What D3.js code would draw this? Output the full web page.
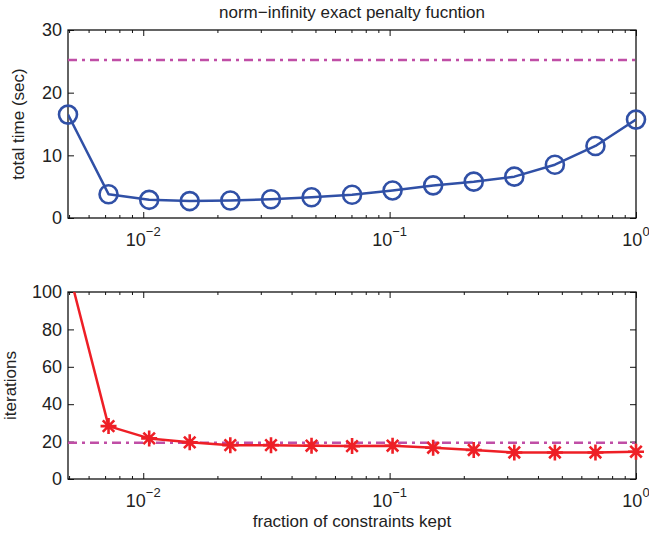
<!DOCTYPE html>
<html>
<head>
<meta charset="utf-8">
<script src="https://cdn.jsdelivr.net/npm/d3@7"></script>
<style>
  body { margin: 0; background: #fff; }
  text { font-family: "Liberation Sans", Arial, sans-serif; fill: #222; }
</style>
</head>
<body>
<svg id="chart" width="649" height="535"></svg>
<script>
// data
var fraction = [0.00495, 0.00723, 0.01057, 0.01544, 0.02256, 0.0330, 0.0482, 0.0704,
                0.1028, 0.1502, 0.2195, 0.3207, 0.4686, 0.6846, 1.0];
var timeSec = [16.5, 3.8, 2.9, 2.7, 2.8, 3.0, 3.3, 3.7, 4.4, 5.2, 5.8, 6.6, 8.5, 11.5, 15.7];
var iterations = [113, 28.3, 21.7, 19.6, 18.1, 18.1, 17.8, 17.6, 17.8, 16.7, 15.5, 14.2, 14.2, 14.2, 14.6];
var timeRef = 25.2;
var iterRef = 19.4;
var xMajor = [0.01, 0.1, 1];
var xExp = ["\u22122", "\u22121", "0"];
var yTicksTime = [0, 10, 20, 30];
var yTicksIter = [0, 20, 40, 60, 80, 100];

var svg = d3.select("#chart"),
    left = 68, right = 636,
    width = right - left;

var blue = "#3050a6", red = "#ee1f26", pink = "#c04ea6";

var x = d3.scaleLog()
    .domain([0.00495, 1])
    .range([0, width]);

// minor ticks 2..9 of each decade inside the domain
var xMinor = [];
[0.001, 0.01, 0.1].forEach(function(p) {
  for (var k = 2; k <= 9; k++) {
    var v = k * p;
    if (v >= x.domain()[0] && v < 1) xMinor.push(v);
  }
});

function panel(top, height, ymax, yTicks, values, ref, color, marker, ylabel, ylabelX, id) {
  var g = svg.append("g").attr("transform", "translate(" + left + "," + top + ")");
  var y = d3.scaleLinear().domain([0, ymax]).range([height, 0]);

  g.append("clipPath").attr("id", id)
    .append("rect").attr("width", width).attr("height", height);

  // axes with inward ticks on all four sides
  var noLab = function() { return ""; };
  g.append("g").attr("class", "axis").attr("transform", "translate(0," + height + ")")
      .call(d3.axisBottom(x).tickValues(xMajor).tickSize(-6).tickFormat(noLab));
  g.append("g").attr("class", "axis").attr("transform", "translate(0," + height + ")")
      .call(d3.axisBottom(x).tickValues(xMinor).tickSize(-3).tickFormat(noLab));
  g.append("g").attr("class", "axis")
      .call(d3.axisTop(x).tickValues(xMajor).tickSize(-6).tickFormat(noLab));
  g.append("g").attr("class", "axis")
      .call(d3.axisTop(x).tickValues(xMinor).tickSize(-3).tickFormat(noLab));
  g.append("g").attr("class", "axis yl")
      .call(d3.axisLeft(y).tickValues(yTicks).tickSize(-6).tickPadding(6));
  g.append("g").attr("class", "axis").attr("transform", "translate(" + width + ",0)")
      .call(d3.axisRight(y).tickValues(yTicks).tickSize(-6).tickFormat(noLab));

  g.selectAll(".axis .domain").remove();
  g.selectAll(".axis line").attr("stroke", "#111").attr("stroke-width", 1);
  g.selectAll(".yl text")
      .attr("font-size", 18)
      .attr("font-family", "Liberation Sans, Arial, sans-serif")
      .attr("fill", "#222");

  g.append("rect")
      .attr("width", width).attr("height", height)
      .attr("fill", "none").attr("stroke", "#111").attr("stroke-width", 1.3);

  // x tick labels 10^k
  var lab = g.selectAll(".xlab").data(xMajor).enter().append("text")
      .attr("class", "xlab")
      .attr("x", function(d) { return x(d); })
      .attr("y", height + 28)
      .attr("text-anchor", "middle")
      .attr("font-size", 18);
  lab.append("tspan").text("10");
  lab.append("tspan").attr("dy", -10).attr("font-size", 13)
      .text(function(d, i) { return xExp[i]; });

  // y label
  g.append("text")
      .attr("transform", "translate(" + (ylabelX - left) + "," + (height / 2) + ") rotate(-90)")
      .attr("text-anchor", "middle")
      .attr("font-size", 17)
      .text(ylabel);

  var plot = g.append("g").attr("clip-path", "url(#" + id + ")");

  plot.append("line")
      .attr("x1", 0).attr("x2", width)
      .attr("y1", y(ref)).attr("y2", y(ref))
      .attr("stroke", pink).attr("stroke-width", 2.5)
      .attr("stroke-dasharray", "9,5,3,5");

  var line = d3.line()
      .x(function(d, i) { return x(fraction[i]); })
      .y(function(d) { return y(d); });

  plot.append("path")
      .datum(values)
      .attr("d", line)
      .attr("fill", "none")
      .attr("stroke", color)
      .attr("stroke-width", 2.5)
      .attr("stroke-linejoin", "round");

  // markers are not clipped, but points outside the y range are dropped
  var pts = values.map(function(d, i) { return {x: fraction[i], y: d}; })
      .filter(function(p) { return p.y <= ymax; });

  if (marker === "circle") {
    g.selectAll(".mk").data(pts).enter().append("circle")
        .attr("cx", function(d) { return x(d.x); })
        .attr("cy", function(d) { return y(d.y); })
        .attr("r", 9)
        .attr("fill", "none")
        .attr("stroke", color)
        .attr("stroke-width", 2.6);
  } else {
    var s = 8, t = s * 0.72;
    var star = "M" + (-s) + ",0L" + s + ",0M0," + (-s) + "L0," + s +
               "M" + (-t) + "," + (-t) + "L" + t + "," + t +
               "M" + (-t) + "," + t + "L" + t + "," + (-t);
    g.selectAll(".mk").data(pts).enter().append("path")
        .attr("transform", function(d) {
          return "translate(" + x(d.x) + "," + y(d.y) + ")";
        })
        .attr("d", star)
        .attr("fill", "none")
        .attr("stroke", color)
        .attr("stroke-width", 2.6);
  }
  return g;
}

panel(30, 188, 30, yTicksTime, timeSec, timeRef, blue, "circle", "total time (sec)", 24, "clipTop");
panel(292, 187, 100, yTicksIter, iterations, iterRef, red, "star", "iterations", 16, "clipBot");

svg.append("text")
    .attr("x", (left + right) / 2)
    .attr("y", 18)
    .attr("text-anchor", "middle")
    .attr("font-size", 17)
    .text("norm\u2212infinity exact penalty fucntion");

svg.append("text")
    .attr("x", (left + right) / 2)
    .attr("y", 527)
    .attr("text-anchor", "middle")
    .attr("font-size", 17)
    .text("fraction of constraints kept");
</script>
</body>
</html>
